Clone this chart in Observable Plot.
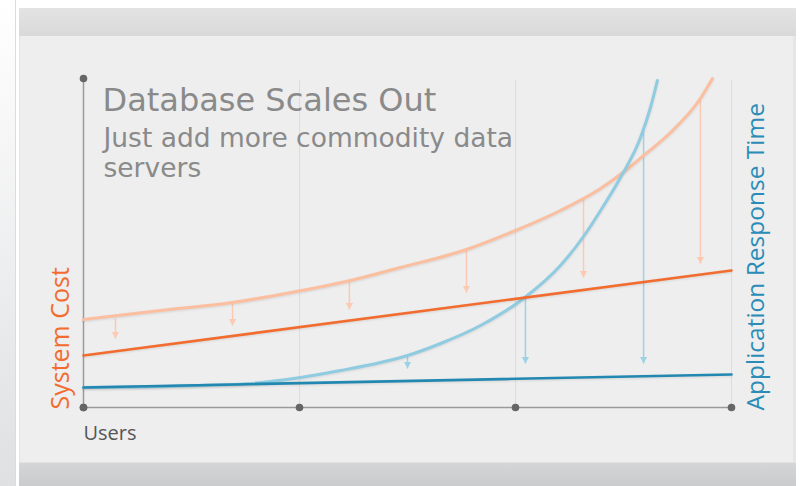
<!DOCTYPE html>
<html>
<head>
<meta charset="utf-8">
<script src="https://cdn.jsdelivr.net/npm/d3@7"></script>
<script src="https://cdn.jsdelivr.net/npm/@observablehq/plot@0.6"></script>
<style>
  html, body { margin: 0; padding: 0; }
  body { width: 802px; height: 486px; position: relative; overflow: hidden; background: #ffffff; }
  .bg { position: absolute; }
  #chart { position: absolute; left: 0; top: 0; }
</style>
</head>
<body>
<div class="bg" style="left:0;top:0;width:15px;height:486px;background:linear-gradient(#ffffff,#dfe0e2);border-right:1px solid #dcdcdc;"></div>
<div class="bg" style="left:19px;top:8px;width:777px;height:28px;background:linear-gradient(#e3e3e3,#d9d9d9);"></div>
<div class="bg" style="left:19px;top:36px;width:773px;height:426px;background:#eeeeee;border-left:1px solid #e4e4e4;border-right:3px solid #e6e6e6;"></div>
<div class="bg" style="left:19px;top:462px;width:777px;height:24px;background:linear-gradient(#d3d5d7,#c9cbcd);border-top:1px solid #e2e2e2;"></div>
<div id="chart"></div>
<script>
// ---- data (x in "user" units 0..3, y in arbitrary value units) ----
const xTicks = [0, 1, 2, 3];
const yAxisEnds = [0, 329];
const gridX = [1, 2, 3];

// scale-up system cost (light orange curve)
const scaleUpCostX = [0, 0.356, 0.690, 0.912, 1.236, 1.468, 1.773, 2.000, 2.208, 2.394, 2.509, 2.593, 2.718, 2.856, 2.912];
const scaleUpCostY = [88, 97, 105, 113, 127, 140, 158, 177, 197, 219, 237, 252, 275, 309, 329];

// scale-up response time (light blue curve)
const scaleUpRespX = [0, 0.542, 0.773, 1.005, 1.190, 1.375, 1.500, 1.653, 1.838, 2.037, 2.208, 2.315, 2.394, 2.486, 2.579, 2.625, 2.657];
const scaleUpRespY = [20, 22, 24, 30, 37, 45, 52, 64, 82, 109, 142, 171, 197, 230, 270, 300, 327];

// scale-out system cost (orange line)
const scaleOutCostX = [0, 3];
const scaleOutCostY = [52, 137];

// scale-out response time (dark blue line)
const scaleOutRespX = [0, 3];
const scaleOutRespY = [20, 33];

// arrows
const costArrowX = [0.148, 0.690, 1.231, 1.773, 2.315, 2.856];
const costArrowFrom = [89, 105, 126, 158, 209, 309];
const costArrowTo = [69, 82, 98, 115, 130, 144];

const respArrowX = [1.5, 2.046, 2.593];
const respArrowFrom = [52, 110, 277];
const respArrowTo = [39, 44, 44];

const title = "Database Scales Out";
const subtitle = "Just add more commodity data\nservers";
const xLabel = "Users";
const yLabelLeft = "System Cost";
const yLabelRight = "Application Response Time";

// ---- build tables ----
const toPts = (xs, ys) => xs.map((x, i) => ({x, y: ys[i]}));
const upCost = toPts(scaleUpCostX, scaleUpCostY);
const upResp = toPts(scaleUpRespX, scaleUpRespY);
const outCost = toPts(scaleOutCostX, scaleOutCostY);
const outResp = toPts(scaleOutRespX, scaleOutRespY);
const costArrows = costArrowX.map((x, i) => ({x, y1: costArrowFrom[i], y2: costArrowTo[i]}));
const respArrows = respArrowX.map((x, i) => ({x, y1: respArrowFrom[i], y2: respArrowTo[i]}));

// down-pointing arrowhead, apex at origin
const arrowHead = {
  draw(context) {
    context.moveTo(0, 0);
    context.lineTo(-3.6, -6.5);
    context.lineTo(3.6, -6.5);
    context.closePath();
  }
};

const cLightOrange = "#fbbfa0";
const cOrangeArrow = "#fcc9b2";
const cOrange = "#f26c2f";
const cLightBlue = "#8fcbe1";
const cBlueArrow = "#9dd2e5";
const cDarkBlue = "#2288b1";

const shadow = "drop-shadow(0px 1px 1px rgba(0,0,0,0.10))";

const chart = Plot.plot({
  width: 802,
  height: 486,
  marginLeft: 83,
  marginRight: 71,
  marginTop: 78,
  marginBottom: 79,
  x: {domain: [0, 3], axis: null},
  y: {domain: [0, 329], axis: null},
  style: {background: "transparent", overflow: "visible"},
  marks: [
    // grid
    Plot.ruleX(gridX, {y1: 0, y2: 327, stroke: "#dcdcdc", strokeWidth: 1}),
    // axes
    Plot.ruleY([0], {x1: 0, x2: 3, stroke: "#9a9a9a", strokeWidth: 1.5}),
    Plot.ruleX([0], {y1: 0, y2: 329, stroke: "#9a9a9a", strokeWidth: 1.5}),
    Plot.dot(xTicks, {x: d => d, y: 0, r: 3.8, fill: "#666", stroke: null}),
    Plot.dot(yAxisEnds, {x: 0, y: d => d, r: 3.8, fill: "#666", stroke: null}),
    // arrows
    Plot.link(costArrows, {x1: "x", x2: "x", y1: "y1", y2: "y2", stroke: cOrangeArrow, strokeWidth: 1.5}),
    Plot.dot(costArrows, {x: "x", y: "y2", symbol: arrowHead, fill: cOrangeArrow, stroke: null}),
    Plot.link(respArrows, {x1: "x", x2: "x", y1: "y1", y2: "y2", stroke: cBlueArrow, strokeWidth: 1.5}),
    Plot.dot(respArrows, {x: "x", y: "y2", symbol: arrowHead, fill: cBlueArrow, stroke: null}),
    // curves
    Plot.line(upCost, {x: "x", y: "y", curve: "monotone-x", stroke: cLightOrange, strokeWidth: 3, imageFilter: shadow}),
    Plot.line(upResp, {x: "x", y: "y", curve: "monotone-x", stroke: cLightBlue, strokeWidth: 3, imageFilter: shadow}),
    Plot.line(outCost, {x: "x", y: "y", stroke: cOrange, strokeWidth: 2.6, imageFilter: shadow}),
    Plot.line(outResp, {x: "x", y: "y", stroke: cDarkBlue, strokeWidth: 2.6, imageFilter: shadow}),
    // texts
    Plot.text([title], {frameAnchor: "top-left", dx: 19, dy: 10, text: d => d, textAnchor: "start", lineAnchor: "top",
      fontSize: 32, fontFamily: "DejaVu Sans, Verdana, sans-serif", fill: "#8a8a8a"}),
    Plot.text([subtitle], {frameAnchor: "top-left", dx: 20, dy: 47, text: d => d, textAnchor: "start", lineAnchor: "top",
      lineHeight: 1.13, fontSize: 26.5, fontFamily: "DejaVu Sans, Verdana, sans-serif", fill: "#8a8a8a"}),
    Plot.text([xLabel], {frameAnchor: "bottom-left", dx: 0, dy: 18, text: d => d, textAnchor: "start", lineAnchor: "top",
      fontSize: 20, fontFamily: "Open Sans, sans-serif", fill: "#555"}),
    Plot.text([yLabelLeft], {frameAnchor: "bottom-left", dx: -22.5, dy: 2, rotate: -90, text: d => d, textAnchor: "start", lineAnchor: "middle",
      fontSize: 25, fontFamily: "Open Sans, sans-serif", fill: cOrange}),
    Plot.text([yLabelRight], {frameAnchor: "bottom-right", dx: 25, dy: 3, rotate: -90, text: d => d, textAnchor: "start", lineAnchor: "middle",
      fontSize: 24.5, fontFamily: "Open Sans, sans-serif", fill: "#2a8cb7"})
  ]
});
document.getElementById("chart").appendChild(chart);
</script>
</body>
</html>
